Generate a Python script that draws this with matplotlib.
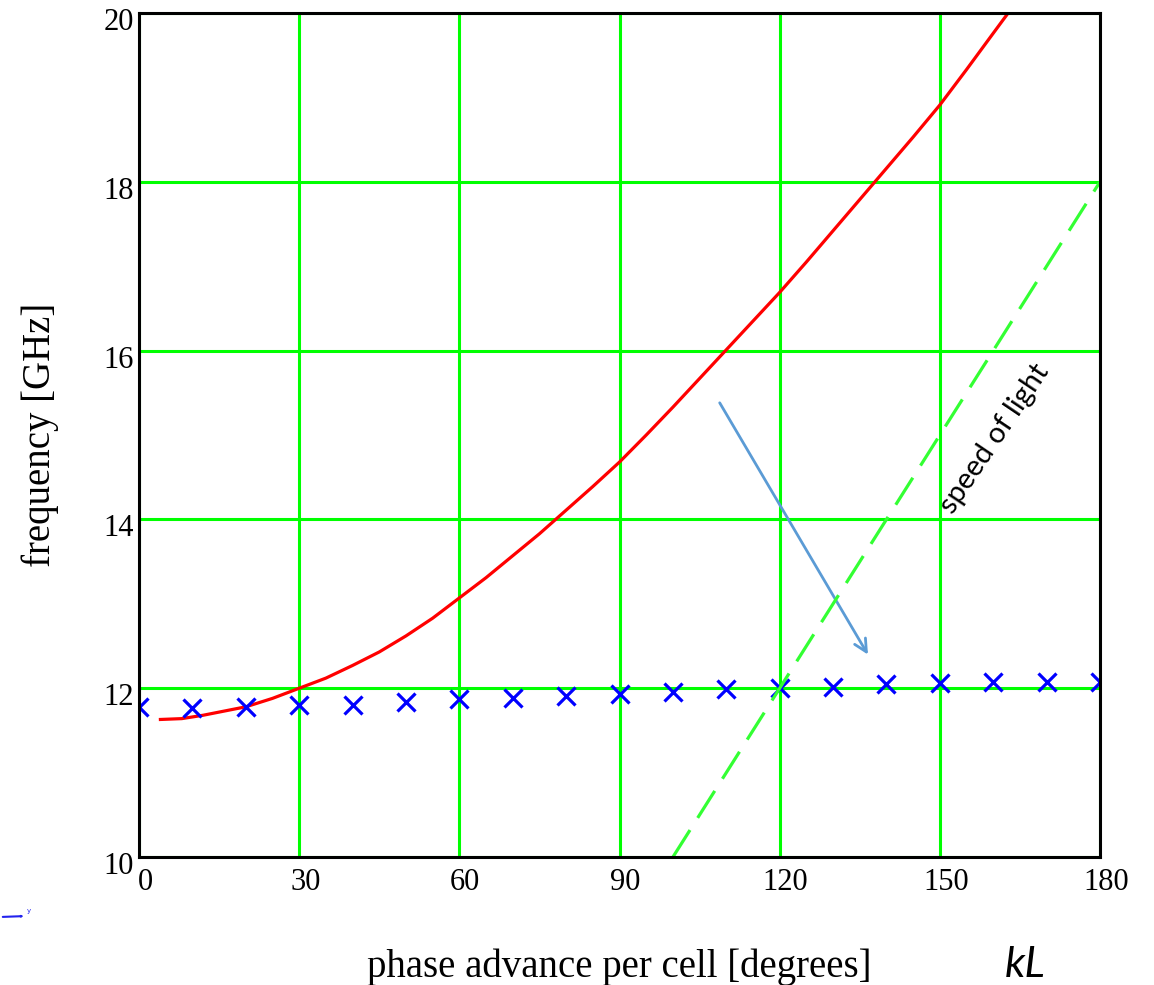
import numpy as np
import matplotlib
matplotlib.use('Agg')
import matplotlib.pyplot as plt
import matplotlib.transforms as mtransforms

# dispersion curve (red)
red_phase = [4, 8, 12, 16, 20, 25, 30, 35, 40, 45, 50, 55, 60, 65, 70, 75, 80, 85,
             90, 95, 100, 105, 110, 115, 120, 125, 130, 135, 140, 145, 150, 155, 160, 162.8]
red_freq = [11.63, 11.64, 11.68, 11.73, 11.78, 11.88, 12.0, 12.12, 12.27, 12.43, 12.62,
            12.83, 13.07, 13.31, 13.57, 13.83, 14.11, 14.39, 14.68, 15.0, 15.33, 15.67,
            16.01, 16.35, 16.69, 17.05, 17.42, 17.79, 18.16, 18.53, 18.91, 19.33, 19.76, 20.0]

# measured points (blue x)
x_phase = [0, 10, 20, 30, 40, 50, 60, 70, 80, 90, 100, 110, 120, 130, 140, 150, 160, 170, 180]
x_freq = [11.78, 11.77, 11.78, 11.80, 11.80, 11.84, 11.87, 11.88, 11.91, 11.93, 11.955,
          11.99, 12.00, 12.01, 12.05, 12.06, 12.07, 12.07, 12.07]

# speed of light line
light_phase = [100, 180]
light_freq = [10, 18]

xticks = [0, 30, 60, 90, 120, 150, 180]
yticks = [10, 12, 14, 16, 18, 20]

green = '#00ff00'

fig = plt.figure(figsize=(11.54, 9.85), dpi=100)
ax = fig.add_axes([0.1205, 0.1299, 0.8327, 0.8569])

ax.set_xlim(0, 180)
ax.set_ylim(10, 20)
ax.set_xticks(xticks)
ax.set_yticks(yticks)
ax.tick_params(length=0, labelsize=22, pad=8)
ax.tick_params(axis='y', pad=4)
for lab in ax.get_xticklabels() + ax.get_yticklabels():
    lab.set_fontfamily('Liberation Serif')

# shift tick labels like the original
dx = mtransforms.ScaledTranslation(6 / 100, 0, fig.dpi_scale_trans)
dy = mtransforms.ScaledTranslation(0, -6 / 100, fig.dpi_scale_trans)
for lab in ax.get_xticklabels():
    lab.set_transform(lab.get_transform() + dx)
for lab in ax.get_yticklabels():
    lab.set_transform(lab.get_transform() + dy)

ax.grid(True, color=green, linewidth=2.2)
ax.set_axisbelow(True)
for s in ax.spines.values():
    s.set_linewidth(2.2)
    s.set_color('black')
    s.set_zorder(5)

ax.plot(red_phase, red_freq, color='red', linewidth=2.3, zorder=3)
ax.plot(x_phase, x_freq, linestyle='none', marker='x', markersize=13,
        markeredgewidth=2.3, color='#0000ff', zorder=4)
ax.plot(light_phase, light_freq, color='#33ff33', linewidth=2.3,
        dashes=(10, 4.5), zorder=4)

ax.annotate('', xy=(136.8, 12.37), xytext=(108.5, 15.41),
            arrowprops=dict(arrowstyle='->,head_length=0.9,head_width=0.45',
                            color='#5b9bd5', linewidth=2))

ax.text(160.2, 14.95, 'speed of light', rotation=56, fontsize=21, family='Lato',
        ha='center', va='center', rotation_mode='anchor')

ax.set_xlabel('phase advance per cell [degrees]', fontsize=28,
              family='Liberation Serif', labelpad=37)
ax.set_ylabel('frequency [GHz]', fontsize=28, family='Liberation Serif', labelpad=32)

fig.text(1025 / 1154, 1 - 965 / 985, 'kL', fontsize=31, style='italic',
         family='Lato', ha='center', va='center')

# small stray arrow in the lower left corner
fig.patches.append(matplotlib.patches.FancyArrowPatch(
    (0, 1 - 917 / 985), (27 / 1154, 1 - 916 / 985), transform=fig.transFigure,
    arrowstyle='-|>,head_length=0.6,head_width=0.25', color='#2222ee', linewidth=1.5))
fig.text(27 / 1154, 1 - 911 / 985, 'y', fontsize=5, color='#2222ee',
         ha='left', va='center')

fig.savefig('out.png', dpi=100)
